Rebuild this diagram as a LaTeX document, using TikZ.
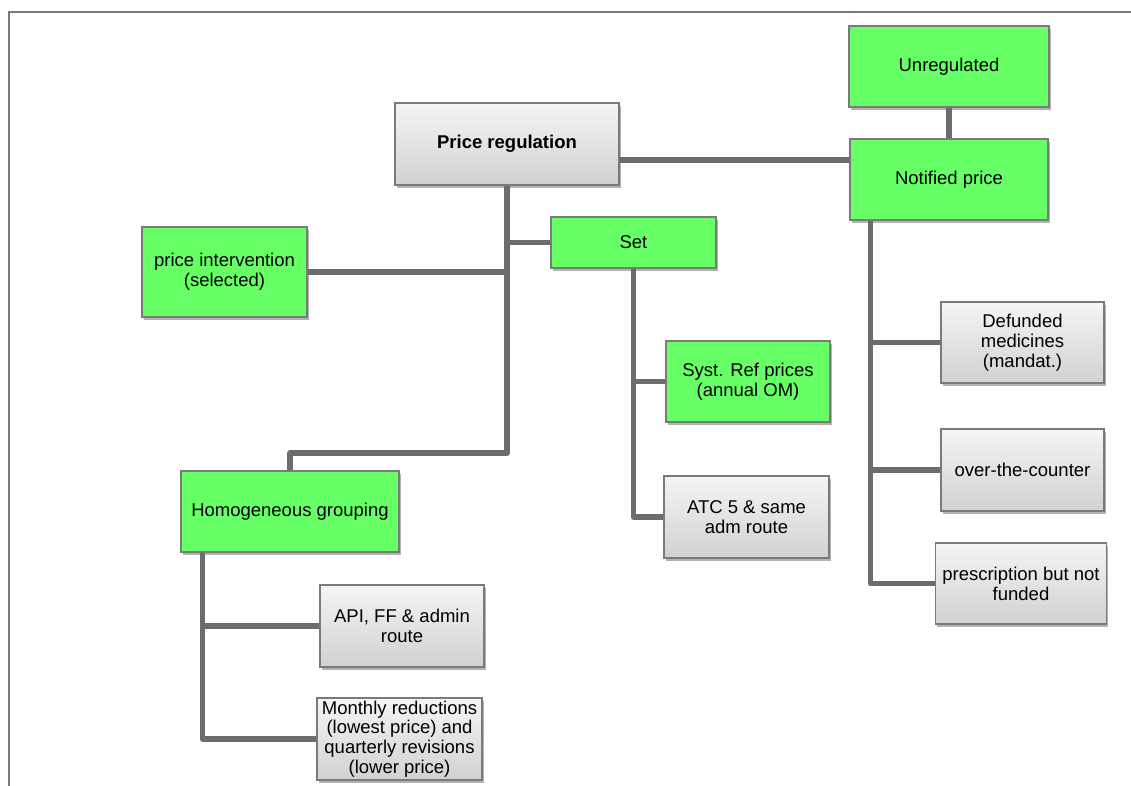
\documentclass[tikz,border=0pt]{standalone}
\usepackage{fontspec}
\setmainfont{Liberation Sans}
\usetikzlibrary{shadows}
\definecolor{boxgreen}{RGB}{102,255,102}
\definecolor{linkgray}{RGB}{108,108,108}
\definecolor{edgegray}{RGB}{122,122,122}
\begin{document}
\begin{tikzpicture}[
  x=0.5pt, y=-0.5pt,
  box/.style={rectangle, draw=edgegray, line width=0.6pt, align=center,
    font=\fontsize{9.25}{9.9}\selectfont,
    drop shadow={shadow xshift=0.9pt, shadow yshift=-1.5pt, opacity=0.3, fill=black}},
  gbox/.style={box, top color=gray!8, bottom color=gray!36},
  vbox/.style={box, fill=boxgreen},
  link/.style={draw=linkgray, line width=2.6pt, line join=round}
]
\useasboundingbox (0,0) rectangle (1131,786);
\draw[edgegray, line width=1pt] (1131,12) -- (9,12) -- (9,786);

\node[gbox, minimum width=112pt, minimum height=41pt] (preg) at (507,144) {\textbf{Price regulation}};
\node[vbox, minimum width=100pt, minimum height=40.5pt] (unreg) at (949,66.5) {Unregulated};
\node[vbox, minimum width=99pt, minimum height=40.5pt] (notif) at (949,179.5) {Notified price};
\node[vbox, minimum width=82.5pt, minimum height=25.5pt] (set) at (633.5,242.5) {Set};
\node[vbox, minimum width=82.5pt, minimum height=45pt] (pint) at (224.5,272) {price intervention\\(selected)};
\node[vbox, minimum width=109pt, minimum height=40.5pt] (homog) at (290,511.5) {Homogeneous grouping};
\node[vbox, minimum width=82pt, minimum height=40.5pt] (syst) at (748,381.5) {Syst. Ref prices\\(annual OM)};
\node[gbox, minimum width=82.5pt, minimum height=41pt] (atc) at (746.5,517) {ATC 5 \& same\\adm route};
\node[gbox, minimum width=81.5pt, minimum height=40.5pt] (defund) at (1022.5,342.5) {Defunded\\medicines\\(mandat.)};
\node[gbox, minimum width=81.5pt, minimum height=41pt] (otc) at (1022.5,470) {over-the-counter};
\node[gbox, minimum width=82pt, minimum height=40.5pt] (presc) at (1021,583.5) {prescription but not\\funded};
\node[gbox, minimum width=82pt, minimum height=41pt] (api) at (402,626) {API, FF \& admin\\route};
\node[gbox, minimum width=82.5pt, minimum height=41pt, inner sep=1pt] (monthly) at (399.5,739) {Monthly reductions\\(lowest price) and\\quarterly revisions\\(lower price)};

% trunk points
\coordinate (pr) at ([yshift=-8pt]preg.east);
\coordinate (hj) at (290,453);
\coordinate (nt) at ([xshift=10.5pt]notif.south west);
\coordinate (hg) at ([xshift=11pt]homog.south west);

\begin{scope}[on background layer/.try]
\draw[link] (pr) -- (pr -| notif.west);
\draw[link] (unreg.south) -- (notif.north);
\draw[link] (preg.south) |- (hj) -- (homog.north);
\draw[link] (set.west) -- (set.west -| preg.south);
\draw[link] (pint.east) -- (pint.east -| preg.south);
\draw[link] (set.south) |- (atc.west);
\draw[link] (syst.west) -- (syst.west -| set.south);
\draw[link] (nt) |- (presc.west);
\draw[link] (defund.west) -- (defund.west -| nt);
\draw[link] (otc.west) -- (otc.west -| nt);
\draw[link] (hg) |- (monthly.west);
\draw[link] (api.west) -- (api.west -| hg);
\end{scope}
\end{tikzpicture}
\end{document}
